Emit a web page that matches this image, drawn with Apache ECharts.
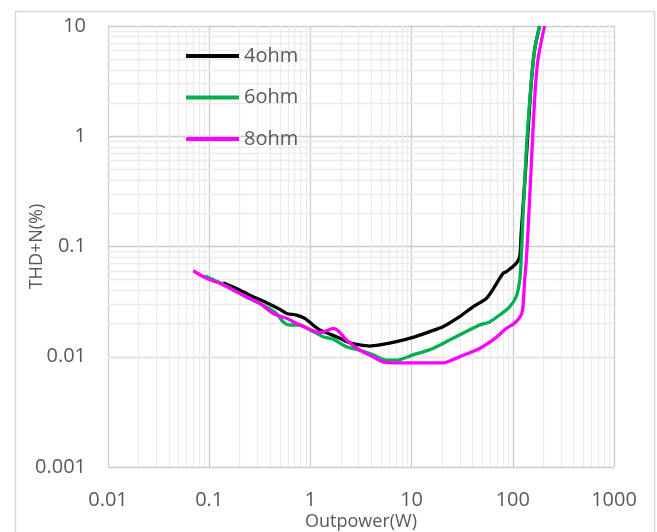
<!DOCTYPE html>
<html>
<head>
<meta charset="utf-8">
<script src="https://cdn.jsdelivr.net/npm/echarts@6/dist/echarts.min.js"></script>
<style>
html,body{margin:0;padding:0;background:#fff;}
#chart{width:657px;height:532px;}
</style>
</head>
<body>
<div id="chart"></div>
<script>
// ---- data ----
var seriesNames = ['4ohm', '6ohm', '8ohm'];

var x4 = [0.137,0.186,0.252,0.369,0.499,0.581,0.73,0.88,1.06,1.24,1.55,1.95,2.45,3.07,3.86,4.84,7.08,10.3,15.1,20.4,29.8,40.4,54.7,66.1,79.8,86.3,108,117,121,131,141,152,164,184];
var y4 = [0.0469,0.0417,0.0362,0.0309,0.0269,0.0247,0.0239,0.0223,0.0194,0.0175,0.0161,0.0147,0.0134,0.0128,0.0125,0.0128,0.0137,0.015,0.0169,0.0187,0.0231,0.0284,0.0338,0.0432,0.057,0.059,0.0703,0.0807,0.132,0.373,1.06,3.01,6.04,10];

var x6 = [0.0908,0.128,0.173,0.234,0.341,0.462,0.538,0.627,0.786,1.06,1.33,1.68,2.27,3.07,4.16,5.64,7.08,10.3,16.3,25.6,47,59,74.1,93,108,117,121,126,136,147,164,184];
var y6 = [0.054,0.0469,0.0403,0.0346,0.0294,0.0247,0.0207,0.0194,0.0194,0.0169,0.0152,0.0144,0.0123,0.0115,0.0104,0.0093,0.0093,0.0104,0.0119,0.0147,0.0194,0.0207,0.0239,0.0284,0.035,0.0495,0.0754,0.186,0.748,2.12,6.04,10];

var x8 = [0.0695,0.0942,0.128,0.173,0.234,0.316,0.429,0.581,0.786,1.06,1.24,1.44,1.68,1.88,2.27,3.07,4.16,5.22,7.08,12,20.4,29.8,47,68.7,86.3,104,121,126,131,136,141,152,164,177,206];
var y8 = [0.0603,0.0514,0.0462,0.0403,0.035,0.0305,0.0247,0.0223,0.0194,0.0172,0.0165,0.0172,0.0181,0.0172,0.0142,0.0115,0.01,0.009,0.0088,0.0088,0.0088,0.01,0.0119,0.015,0.0181,0.0201,0.0239,0.0284,0.0495,0.0754,0.132,0.528,2.12,4.9,10];

var xTickLabels = ['0.01', '0.1', '1', '10', '100', '1000'];
var yTickLabels = ['0.001', '0.01', '0.1', '1', '10'];
var xTitle = 'Outpower(W)';
var yTitle = 'THD+N(%)';

// ---- build ----
function pairs(xs, ys) { return xs.map(function (v, i) { return [v, ys[i]]; }); }

// minor grid positions (2..9 within each decade)
var minorLines = [];
for (var d = -2; d <= 2; d++) for (var k = 2; k <= 9; k++) minorLines.push({ xAxis: k * Math.pow(10, d) });
for (var e = -3; e <= 0; e++) for (var m = 2; m <= 9; m++) minorLines.push({ yAxis: m * Math.pow(10, e) });

var FONT = '"Open Sans", "Noto Sans", sans-serif';
var TXT = '#595959';

var chart = echarts.init(document.getElementById('chart'), null, { renderer: 'canvas' });
chart.setOption({
  animation: false,
  backgroundColor: '#ffffff',
  graphic: [{
    type: 'rect',
    shape: { x: 15.5, y: 11.5, width: 639, height: 540 },
    style: { fill: 'none', stroke: '#d9d9d9', lineWidth: 1.5 },
    silent: true, z: -1
  }],
  grid: { left: 108, right: 43, top: 26, bottom: 65, containLabel: false, outerBoundsMode: 'none' },
  legend: {
    data: seriesNames,
    orient: 'vertical',
    left: 186, top: 46,
    padding: 0,
    icon: 'rect',
    itemWidth: 53, itemHeight: 4, itemGap: 21.5,
    textStyle: { fontFamily: FONT, fontSize: 20, color: TXT, lineHeight: 20 },
    z: 10
  },
  xAxis: {
    type: 'log', logBase: 10, min: 0.01, max: 1000, interval: 1,
    name: xTitle, nameLocation: 'middle', nameGap: 46, nameMoveOverlap: false,
    nameTextStyle: { fontFamily: FONT, fontSize: 18, color: TXT },
    axisLine: { show: false }, axisTick: { show: false },
    axisLabel: {
      fontFamily: FONT, fontSize: 20, color: TXT, margin: 23,
      formatter: function (v, i) { return xTickLabels[i]; }
    },
    splitLine: { show: true, lineStyle: { color: '#cccccc', width: 1.3 } }
  },
  yAxis: {
    type: 'log', logBase: 10, min: 0.001, max: 10, interval: 1,
    name: yTitle, nameLocation: 'middle', nameGap: 62, nameRotate: 90, nameMoveOverlap: false,
    nameTextStyle: { fontFamily: FONT, fontSize: 18, color: TXT },
    axisLine: { show: false }, axisTick: { show: false },
    axisLabel: {
      fontFamily: FONT, fontSize: 20, color: TXT, margin: 22,
      formatter: function (v, i) { return yTickLabels[i]; }
    },
    splitLine: { show: true, lineStyle: { color: '#cccccc', width: 1.3 } }
  },
  series: [
    {
      name: 'minorGrid', type: 'line', data: [], silent: true, z: 1,
      markLine: {
        z: 1,
        silent: true, symbol: 'none', animation: false,
        label: { show: false },
        lineStyle: { color: '#ebebeb', width: 1.3, type: 'solid' },
        emphasis: { disabled: true },
        data: minorLines
      }
    },
    { name: seriesNames[0], type: 'line', data: pairs(x4, y4), symbol: 'none', smooth: 0.25, z: 3,
      lineStyle: { color: '#000000', width: 3.3 }, itemStyle: { color: '#000000' } },
    { name: seriesNames[1], type: 'line', data: pairs(x6, y6), symbol: 'none', smooth: 0.25, z: 3,
      lineStyle: { color: '#00B050', width: 3.3 }, itemStyle: { color: '#00B050' } },
    { name: seriesNames[2], type: 'line', data: pairs(x8, y8), symbol: 'none', smooth: 0.25, z: 3,
      lineStyle: { color: '#FF00FF', width: 3.3 }, itemStyle: { color: '#FF00FF' } }
  ]
});
</script>
</body>
</html>
